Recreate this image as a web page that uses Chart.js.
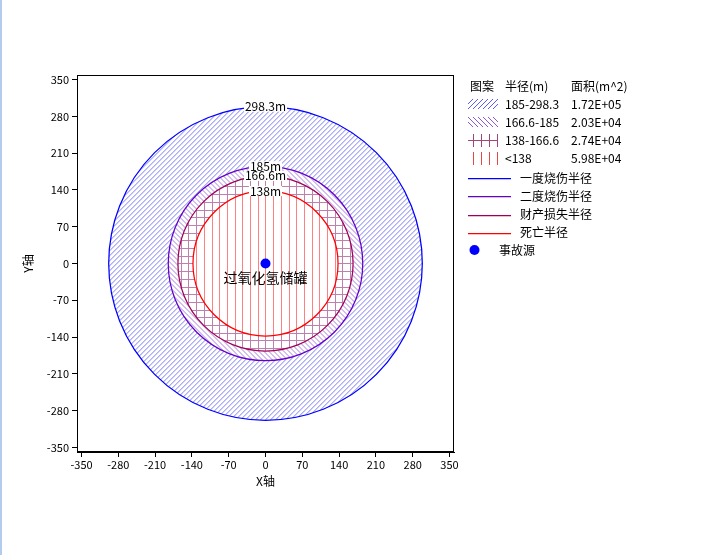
<!DOCTYPE html>
<html>
<head>
<meta charset="utf-8">
<script src="https://cdn.jsdelivr.net/npm/chart.js@4"></script>
<style>
  html, body { margin: 0; padding: 0; background: #fff; }
  #wrap { position: relative; width: 707px; height: 555px; }
  #edge { position: absolute; left: 0; top: 0; width: 2px; height: 555px; background: #b3cbed; }
</style>
</head>
<body>
<div id="wrap">
  <canvas id="chart"></canvas>
  <div id="edge"></div>
</div>
<script>
// 数据
const radii = [298.3, 185, 166.6, 138];
const radiusLabels = ["298.3m", "185m", "166.6m", "138m"];
const lineNames = ["一度烧伤半径", "二度烧伤半径", "财产损失半径", "死亡半径"];
const rangeLabels = ["185-298.3", "166.6-185", "138-166.6", "<138"];
const areaLabels = ["1.72E+05", "2.03E+04", "2.74E+04", "5.98E+04"];
const tickValues = [-350, -280, -210, -140, -70, 0, 70, 140, 210, 280, 350];
const sourcePoint = [{ x: 0, y: 0 }];
const sourceLabel = "过氧化氢储罐";

const FONT = '"Noto Sans CJK SC", "Noto Sans", sans-serif';
const lineColors = ["#0000ff", "#6400c8", "#a0005a", "#ff0000"];
const hatchColors = ["#7d7df2", "#a77ee0", "#c080ad", "#ff8080"];
const hatchTypes = ["slash", "back", "grid", "vert"];

// 画阴影线
function drawHatch(ctx, type, color, x0, y0, x1, y1, ox, oy) {
  ctx.strokeStyle = color;
  ctx.lineWidth = 1;
  ctx.beginPath();
  const h = y1 - y0;
  if (type === "slash" || type === "back") {
    const s = 5;
    for (let k = x0 - h; k <= x1 + h; k += s) {
      if (type === "slash") {
        ctx.moveTo(k, y1);
        ctx.lineTo(k + h, y0);
      } else {
        ctx.moveTo(k, y0);
        ctx.lineTo(k + h, y1);
      }
    }
  } else {
    const s = 7.7;
    const start = ox - Math.ceil((ox - x0) / s) * s;
    for (let x = start; x <= x1; x += s) {
      const px = Math.round(x) + 0.5;
      ctx.moveTo(px, y0);
      ctx.lineTo(px, y1);
    }
    if (type === "grid") {
      const startY = oy - Math.ceil((oy - y0) / s) * s;
      for (let y = startY; y <= y1; y += s) {
        const py = Math.round(y) + 0.5;
        ctx.moveTo(x0, py);
        ctx.lineTo(x1, py);
      }
    }
  }
  ctx.stroke();
}

const circlesPlugin = {
  id: "circles",
  beforeDatasetsDraw(chart) {
    const { ctx, chartArea } = chart;
    const xs = chart.scales.x, ys = chart.scales.y;
    const cx = xs.getPixelForValue(sourcePoint[0].x);
    const cy = ys.getPixelForValue(sourcePoint[0].y);
    ctx.save();
    ctx.beginPath();
    ctx.rect(chartArea.left, chartArea.top, chartArea.width, chartArea.height);
    ctx.clip();

    // 填充（由外到内）
    radii.forEach((r, i) => {
      const rx = xs.getPixelForValue(sourcePoint[0].x + r) - cx;
      const ry = cy - ys.getPixelForValue(sourcePoint[0].y + r);
      ctx.save();
      ctx.beginPath();
      ctx.ellipse(cx, cy, rx, ry, 0, 0, Math.PI * 2);
      ctx.fillStyle = "#fff";
      ctx.fill();
      ctx.clip();
      drawHatch(ctx, hatchTypes[i], hatchColors[i], cx - rx, cy - ry, cx + rx, cy + ry, cx, cy);
      ctx.restore();
    });

    // 圆周线
    radii.forEach((r, i) => {
      const rx = xs.getPixelForValue(sourcePoint[0].x + r) - cx;
      const ry = cy - ys.getPixelForValue(sourcePoint[0].y + r);
      ctx.beginPath();
      ctx.ellipse(cx, cy, rx, ry, 0, 0, Math.PI * 2);
      ctx.strokeStyle = lineColors[i];
      ctx.lineWidth = 1.25;
      ctx.stroke();
    });

    // 半径标注
    ctx.font = "12px " + FONT;
    ctx.textAlign = "center";
    ctx.textBaseline = "middle";
    radii.forEach((r, i) => {
      const ty = ys.getPixelForValue(sourcePoint[0].y + r);
      const w = ctx.measureText(radiusLabels[i]).width;
      ctx.fillStyle = "#fff";
      ctx.fillRect(cx - w / 2 - 1, ty - 5, w + 2, 10);
      ctx.fillStyle = "#000";
      ctx.fillText(radiusLabels[i], cx, ty);
    });
    ctx.restore();
  },
  afterDatasetsDraw(chart) {
    const { ctx } = chart;
    const cx = chart.scales.x.getPixelForValue(sourcePoint[0].x);
    const cy = chart.scales.y.getPixelForValue(sourcePoint[0].y);
    ctx.save();
    ctx.font = "14px " + FONT;
    ctx.fillStyle = "#000";
    ctx.textAlign = "center";
    ctx.textBaseline = "middle";
    ctx.fillText(sourceLabel, cx, cy + 14);
    ctx.restore();
  },
  afterDraw(chart) {
    const { ctx, chartArea } = chart;
    ctx.save();
    // 外框
    ctx.strokeStyle = "#000";
    ctx.lineWidth = 1;
    ctx.strokeRect(Math.round(chartArea.left) + 0.5, Math.round(chartArea.top) + 0.5,
      Math.round(chartArea.width) - 1, Math.round(chartArea.height) - 1);

    // 图例
    const lx = 468;
    ctx.font = "12px " + FONT;
    ctx.fillStyle = "#000";
    ctx.textAlign = "left";
    ctx.textBaseline = "middle";
    ctx.fillText("图案", 470, 86);
    ctx.fillText("半径(m)", 505, 86);
    ctx.fillText("面积(m^2)", 571, 86);
    const swatchColors = ["#5a5aff", "#8c5ad8", "#a04678", "#e64646"];
    rangeLabels.forEach((label, i) => {
      const y = 104 + i * 18;
      ctx.save();
      if (i < 2) {
        ctx.beginPath();
        ctx.rect(lx, y - 5, 30, 10);
        ctx.clip();
        drawHatch(ctx, hatchTypes[i], swatchColors[i], lx, y - 5, lx + 30, y + 5, lx, y);
      } else {
        ctx.strokeStyle = swatchColors[i];
        ctx.lineWidth = 1;
        ctx.beginPath();
        for (let k = 0; k < 4; k++) {
          const px = 473.5 + k * 8;
          ctx.moveTo(px, y - 6);
          ctx.lineTo(px, y + 7);
        }
        if (i === 2) {
          ctx.moveTo(lx, y + 0.5);
          ctx.lineTo(lx + 30, y + 0.5);
        }
        ctx.stroke();
      }
      ctx.restore();
      ctx.fillStyle = "#000";
      ctx.fillText(label, 505, y);
      ctx.fillText(areaLabels[i], 571, y);
    });
    lineNames.forEach((name, i) => {
      const y = 178 + i * 18.3;
      ctx.strokeStyle = lineColors[i];
      ctx.lineWidth = 1.25;
      ctx.beginPath();
      ctx.moveTo(lx, Math.round(y) + 0.5);
      ctx.lineTo(511, Math.round(y) + 0.5);
      ctx.stroke();
      ctx.fillStyle = "#000";
      ctx.fillText(name, 520, y);
    });
    ctx.fillStyle = "#0000ff";
    ctx.beginPath();
    ctx.arc(474.5, 250, 5, 0, Math.PI * 2);
    ctx.fill();
    ctx.fillStyle = "#000";
    ctx.fillText("事故源", 499, 250);
    ctx.restore();
  }
};

const axisOpts = (title, pos) => ({
  type: "linear",
  position: pos,
  min: -358.6,
  max: 358.6,
  afterBuildTicks: (scale) => {
    scale.ticks = tickValues.map((v) => ({ value: v }));
  },
  ticks: {
    color: "#000",
    font: { family: FONT, size: 11 },
    padding: pos === "left" ? 3 : 1,
    maxRotation: 0,
    autoSkip: false
  },
  grid: {
    display: true,
    drawOnChartArea: false,
    drawTicks: true,
    tickLength: 5,
    color: "#000"
  },
  border: { display: true, color: "#000" },
  title: {
    display: true,
    text: title,
    color: "#000",
    font: { family: FONT, size: 12 },
    padding: pos === "left" ? { top: 21, bottom: 0 } : { top: 0, bottom: 3 }
  }
});

const xAxis = axisOpts("X轴", "bottom");
xAxis.afterFit = (scale) => { scale.height = 40; };
const yAxis = axisOpts("Y轴", "left");
yAxis.afterFit = (scale) => { scale.width = 77; };

new Chart(document.getElementById("chart"), {
  type: "scatter",
  data: {
    datasets: [
      {
        label: "事故源",
        data: sourcePoint,
        pointRadius: 5,
        pointHoverRadius: 5,
        backgroundColor: "#0000ff",
        borderWidth: 0
      }
    ]
  },
  options: {
    responsive: true,
    maintainAspectRatio: false,
    animation: false,
    devicePixelRatio: 1,
    layout: { padding: { left: 0, top: 75, right: 253, bottom: 63 } },
    plugins: {
      legend: { display: false },
      tooltip: { enabled: false }
    },
    scales: { x: xAxis, y: yAxis }
  },
  plugins: [circlesPlugin]
});
</script>
</body>
</html>
